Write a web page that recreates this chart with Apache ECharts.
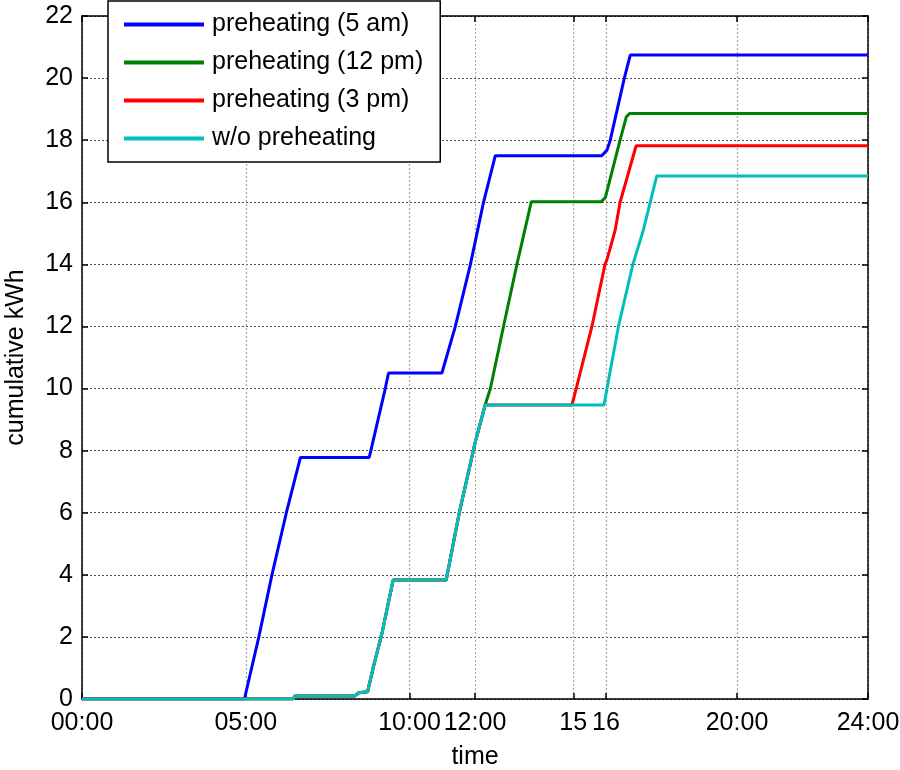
<!DOCTYPE html>
<html>
<head>
<meta charset="utf-8">
<script src="https://cdn.jsdelivr.net/npm/echarts@6/dist/echarts.min.js"></script>
<style>
  html, body { margin: 0; padding: 0; background: #fff; }
  #chart { width: 900px; height: 770px; }
</style>
</head>
<body>
<div id="chart"></div>
<script>
// Time axis ticks (hours) and their labels
const timeTicks = [0, 5, 10, 12, 15, 16, 20, 24];
const timeTickLabels = ['00:00', '05:00', '10:00', '12:00', '15', '16', '20:00', '24:00'];

// Cumulative energy per scenario: hour of day -> kWh
const preheat5amHours = [0, 4.96, 5.40, 5.80, 6.24, 6.67, 8.77, 8.82, 9.26, 9.36, 10.99, 11.40, 11.86, 12.26, 12.62, 15.87, 16.03, 16.13, 16.56, 16.74, 24];
const preheat5amKWh   = [0, 0,    2.0,  4.0,  6.0,  7.78, 7.78, 8.0,  10.0, 10.50, 10.50, 12.0, 14.0, 16.0, 17.50, 17.50, 17.68, 18.0, 20.0, 20.74, 20.74];

const preheat12pmHours = [0, 6.45, 6.50, 8.33, 8.45, 8.72, 8.90, 9.16, 9.50, 11.12, 11.52, 12.00, 12.31, 12.47, 12.87, 13.28, 13.72, 15.85, 15.98, 16.43, 16.62, 16.72, 24];
const preheat12pmKWh   = [0, 0,    0.10, 0.10, 0.20, 0.23, 1.04, 2.12, 3.83, 3.83,  6.0,   8.24,  9.47,  10.0,  12.0,  14.0,  16.02, 16.02, 16.15, 18.0,  18.75, 18.86, 18.86];

const preheat3pmHours = [0, 6.45, 6.50, 8.33, 8.45, 8.72, 8.90, 9.16, 9.50, 11.12, 11.52, 12.00, 12.31, 14.96, 15.09, 15.57, 15.97, 16.03, 16.28, 16.43, 16.92, 24];
const preheat3pmKWh   = [0, 0,    0.10, 0.10, 0.20, 0.23, 1.04, 2.12, 3.83, 3.83,  6.0,   8.24,  9.47,  9.47,  10.0,  12.0,  14.0,  14.15, 15.1,  16.0,  17.82, 17.82];

const noPreheatHours = [0, 6.45, 6.50, 8.33, 8.45, 8.72, 8.90, 9.16, 9.50, 11.12, 11.52, 12.00, 12.31, 15.94, 16.03, 16.38, 16.82, 17.14, 17.55, 24];
const noPreheatKWh   = [0, 0,    0.10, 0.10, 0.20, 0.23, 1.04, 2.12, 3.83, 3.83,  6.0,   8.24,  9.47,  9.47,  10.0,  12.0,  14.0,  15.1,  16.85, 16.85];

const seriesNames = ['preheating (5 am)', 'preheating (12 pm)', 'preheating (3 pm)', 'w/o preheating'];
const seriesColors = ['#0000ff', '#008000', '#ff0000', '#00bfbf'];
const seriesHours = [preheat5amHours, preheat12pmHours, preheat3pmHours, noPreheatHours];
const seriesKWh = [preheat5amKWh, preheat12pmKWh, preheat3pmKWh, noPreheatKWh];

const FONT = 'Liberation Sans, Arial, sans-serif';
const FS = 25;

const zip = (xs, ys) => xs.map((x, i) => [x, ys[i]]);

const chart = echarts.init(document.getElementById('chart'), null, { renderer: 'canvas' });

const tickLabelOf = v => {
  const i = timeTicks.indexOf(v);
  return i >= 0 ? timeTickLabels[i] : '';
};

const option = {
  backgroundColor: '#fff',
  animation: false,
  textStyle: { fontFamily: FONT },
  grid: { left: 82, right: 32, top: 16, bottom: 71, containLabel: false, outerBoundsMode: 'none' },
  legend: {
    orient: 'vertical',
    left: 108,
    top: 1,
    padding: [11, 17, 11, 16],
    itemGap: 13,
    itemWidth: 80,
    itemHeight: 4,
    icon: 'rect',
    backgroundColor: '#fff',
    borderColor: '#000',
    borderWidth: 1.5,
    borderRadius: 0,
    textStyle: { fontSize: FS, color: '#000', fontFamily: FONT, lineHeight: 25, padding: [0, 0, 0, 3] },
    data: seriesNames
  },
  xAxis: [
    {
      type: 'value', position: 'bottom', min: 0, max: 24,
      name: 'time', nameLocation: 'middle', nameGap: 46,
      nameTextStyle: { fontSize: FS, color: '#000', fontFamily: FONT },
      axisLine: { show: true, onZero: false, lineStyle: { color: '#000', width: 1.5 } },
      axisTick: { show: true, inside: true, length: 6, customValues: timeTicks, lineStyle: { color: '#000', width: 1.5 } },
      axisLabel: { show: true, customValues: timeTicks, formatter: tickLabelOf, margin: 12, fontSize: FS, color: '#000', fontFamily: FONT, hideOverlap: false, showMinLabel: true, showMaxLabel: true },
      splitLine: { show: true, lineStyle: { color: '#a8a8a8', width: 1.2, type: [2, 2] } }
    },
    {
      type: 'value', position: 'top', min: 0, max: 24,
      axisLine: { show: true, onZero: false, lineStyle: { color: '#000', width: 1.5 } },
      axisTick: { show: true, inside: true, length: 6, customValues: timeTicks, lineStyle: { color: '#000', width: 1.5 } },
      axisLabel: { show: false },
      splitLine: { show: false }
    }
  ],
  yAxis: [
    {
      type: 'value', position: 'left', min: 0, max: 22, interval: 2,
      name: 'cumulative kWh', nameLocation: 'middle', nameGap: 53,
      nameTextStyle: { fontSize: FS, color: '#000', fontFamily: FONT },
      axisLine: { show: true, onZero: false, lineStyle: { color: '#000', width: 1.5 } },
      axisTick: { show: true, inside: true, length: 6, lineStyle: { color: '#000', width: 1.5 } },
      axisLabel: { show: true, margin: 9, fontSize: FS, color: '#000', fontFamily: FONT },
      splitLine: { show: true, lineStyle: { color: '#505050', width: 1, type: [2, 2] } }
    },
    {
      type: 'value', position: 'right', min: 0, max: 22, interval: 2,
      axisLine: { show: true, onZero: false, lineStyle: { color: '#000', width: 1.5 } },
      axisTick: { show: true, inside: true, length: 6, lineStyle: { color: '#000', width: 1.5 } },
      axisLabel: { show: false },
      splitLine: { show: false }
    }
  ],
  series: seriesNames.map((name, i) => ({
    name,
    type: 'line',
    xAxisIndex: 0,
    yAxisIndex: 0,
    showSymbol: false,
    symbol: 'none',
    smooth: false,
    lineStyle: { color: seriesColors[i], width: 3 },
    itemStyle: { color: seriesColors[i] },
    data: zip(seriesHours[i], seriesKWh[i]),
    z: 2 + i
  }))
};

chart.setOption(option);
</script>
</body>
</html>
